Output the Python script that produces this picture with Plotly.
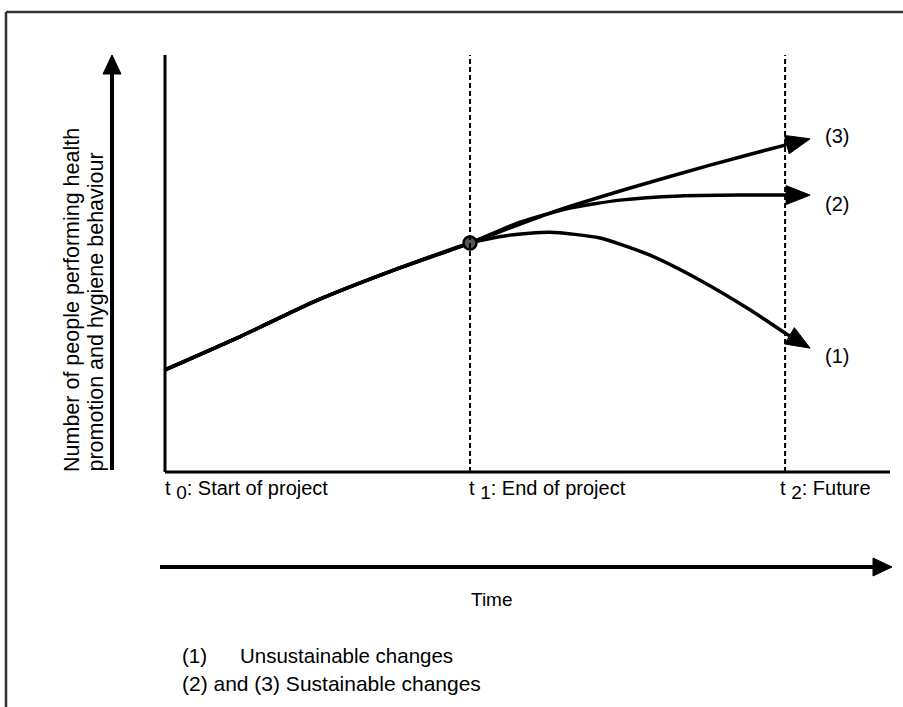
import plotly.graph_objects as go
import numpy as np

# ---------------- data ----------------
time_pos = [0.0, 1.0, 2.033]
time_subs = ["0", "1", "2"]
time_texts = ["Start of project", "End of project", "Future"]

# common rise from t0 to t1 (number of people, 0..100 scale)
rise_x = [0.0, 0.25, 0.5, 0.75, 1.0]
rise_y = [24.5, 32.6, 41.2, 48.4, 54.9]

# branches after t1 (last value = arrow tip)
s1_x = [1.131, 1.262, 1.426, 1.590, 1.754, 1.918, 2.033, 2.115]
s1_y = [56.8, 57.5, 56.1, 52.0, 46.0, 38.9, 33.3, 29.7]
s2_x = [1.164, 1.328, 1.492, 1.689, 1.885, 2.033, 2.115]
s2_y = [59.9, 63.3, 65.2, 66.2, 66.4, 66.4, 66.4]
s3_x = [1.262, 1.525, 1.787, 2.033, 2.115]
s3_y = [62.1, 68.1, 73.6, 78.4, 79.9]
series_names = ["(1)", "(2)", "(3)"]

y_title = ["Number of people performing health",
           "promotion and hygiene behaviour"]
x_title = "Time"
notes = ["(1)", "Unsustainable changes", "(2) and (3) Sustainable changes"]

# ---------------- geometry ----------------
W, H = 903, 707
X0, XS = 165.0, 305.0
Y0, YS = 472.0, 4.17


def d2px(x, y):
    return X0 + x * XS, Y0 - y * YS


def px2d(px, py):
    return (px - X0) / XS, (Y0 - py) / YS


def fx(p):
    return p / W


def fy(p):
    return 1 - p / H


def head(tip, frm, L, hw):
    tx, ty = tip
    bx, by = frm
    u = np.array([tx - bx, ty - by], float)
    u /= np.linalg.norm(u)
    n = np.array([-u[1], u[0]])
    base = np.array([tx, ty]) - u * L
    c1 = base + n * hw
    c2 = base - n * hw
    return base, [(tx, ty), tuple(c1), tuple(c2)]


FONT = "Liberation Sans, Arial, sans-serif"
fig = go.Figure()
shapes = []
annotations = []

label_dy = {"(1)": 8, "(2)": 9, "(3)": -3}
for bx, by, name in [(s1_x, s1_y, "(1)"), (s2_x, s2_y, "(2)"), (s3_x, s3_y, "(3)")]:
    tip_px = d2px(bx[-1], by[-1])
    prev_px = d2px(bx[-2], by[-2])
    base, tri = head(tip_px, prev_px, 24, 9.5)
    bdx, bdy = px2d(*base)
    xs = rise_x + bx[:-1] + [bdx]
    ys = rise_y + by[:-1] + [bdy]
    fig.add_trace(go.Scatter(x=xs, y=ys, mode="lines",
                             line=dict(color="black", width=3.5, shape="spline", smoothing=0.6),
                             hoverinfo="skip", name=name))
    pts = [px2d(*p) for p in tri]
    path = "M{},{} L{},{} L{},{} Z".format(pts[0][0], pts[0][1], pts[1][0], pts[1][1], pts[2][0], pts[2][1])
    shapes.append(dict(type="path", xref="x", yref="y", path=path,
                       fillcolor="black", line=dict(color="black", width=1)))
    annotations.append(dict(x=fx(823), y=fy(tip_px[1] + label_dy[name]),
                            xref="paper", yref="paper", text=name, showarrow=False,
                            xanchor="left", yanchor="middle",
                            font=dict(family=FONT, size=20, color="black")))

# point at t1
fig.add_trace(go.Scatter(x=[rise_x[-1]], y=[rise_y[-1]], mode="markers",
                         marker=dict(size=13, color="#555555", line=dict(color="black", width=2.5)),
                         hoverinfo="skip"))

# axes lines
shapes.append(dict(type="line", xref="x", yref="y", x0=0, x1=0, y0=0, y1=100,
                   line=dict(color="black", width=3)))
shapes.append(dict(type="line", xref="x", yref="y", x0=0, x1=px2d(890, 0)[0], y0=0, y1=0,
                   line=dict(color="black", width=3)))
# dashed time markers
for t in time_pos[1:]:
    shapes.append(dict(type="line", xref="x", yref="y", x0=t, x1=t, y0=0, y1=100,
                       line=dict(color="black", width=2, dash="5px,3px")))

# outer frame (left & top)
shapes.append(dict(type="line", xref="paper", yref="paper", x0=fx(6), x1=fx(6), y0=fy(12), y1=fy(712),
                   line=dict(color="#333333", width=2.5)))
shapes.append(dict(type="line", xref="paper", yref="paper", x0=fx(6), x1=fx(910), y0=fy(12), y1=fy(12),
                   line=dict(color="#333333", width=2.5)))

# vertical arrow
shapes.append(dict(type="line", xref="paper", yref="paper", x0=fx(112), x1=fx(112), y0=fy(470), y1=fy(70),
                   line=dict(color="black", width=4)))
_, tri = head((112, 55), (112, 200), 19, 9)
shapes.append(dict(type="path", xref="paper", yref="paper",
                   path="M{},{} L{},{} L{},{} Z".format(fx(tri[0][0]), fy(tri[0][1]), fx(tri[1][0]), fy(tri[1][1]),
                                                        fx(tri[2][0]), fy(tri[2][1])),
                   fillcolor="black", line=dict(color="black", width=1)))
# time arrow
shapes.append(dict(type="line", xref="paper", yref="paper", x0=fx(160), x1=fx(875), y0=fy(567), y1=fy(567),
                   line=dict(color="black", width=4)))
_, tri = head((892, 567), (700, 567), 19, 9)
shapes.append(dict(type="path", xref="paper", yref="paper",
                   path="M{},{} L{},{} L{},{} Z".format(fx(tri[0][0]), fy(tri[0][1]), fx(tri[1][0]), fy(tri[1][1]),
                                                        fx(tri[2][0]), fy(tri[2][1])),
                   fillcolor="black", line=dict(color="black", width=1)))

# time labels
label_left = [163, 467, 778]
for sub, txt, lx in zip(time_subs, time_texts, label_left):
    lab = "t <sub><span style='font-size:19px'>" + sub + "</span></sub>: " + txt
    annotations.append(dict(x=fx(lx), y=fy(475), xref="paper", yref="paper", text=lab,
                            showarrow=False, xanchor="left", yanchor="top",
                            font=dict(family=FONT, size=20, color="black")))
annotations.append(dict(x=fx(492), y=fy(587), xref="paper", yref="paper", text=x_title,
                        showarrow=False, xanchor="center", yanchor="top",
                        font=dict(family=FONT, size=19, color="black")))

# y title
for txt, cx in zip(y_title, [72, 96]):
    annotations.append(dict(x=fx(cx), y=fy(474), xref="paper", yref="paper", text=txt,
                            showarrow=False, xanchor="center", yanchor="bottom", textangle=-90,
                            font=dict(family=FONT, size=21.5, color="black")))

# notes
annotations.append(dict(x=fx(180), y=fy(655), xref="paper", yref="paper", text=notes[0],
                        showarrow=False, xanchor="left", yanchor="middle",
                        font=dict(family=FONT, size=20.5, color="black")))
annotations.append(dict(x=fx(238), y=fy(655), xref="paper", yref="paper", text=notes[1],
                        showarrow=False, xanchor="left", yanchor="middle",
                        font=dict(family=FONT, size=20.5, color="black")))
annotations.append(dict(x=fx(180), y=fy(683), xref="paper", yref="paper", text=notes[2],
                        showarrow=False, xanchor="left", yanchor="middle",
                        font=dict(family=FONT, size=21, color="black")))

fig.update_layout(
    width=W, height=H,
    margin=dict(l=0, r=0, t=0, b=0, pad=0),
    paper_bgcolor="white", plot_bgcolor="white",
    showlegend=False,
    xaxis=dict(range=[(0 - X0) / XS, (W - X0) / XS], visible=False, fixedrange=True),
    yaxis=dict(range=[(Y0 - H) / YS, Y0 / YS], visible=False, fixedrange=True),
    shapes=shapes, annotations=annotations,
)

fig.write_html("out.html", config={"displayModeBar": False, "staticPlot": True},
               post_script="document.body.style.margin='0';document.body.style.overflow='hidden';")
